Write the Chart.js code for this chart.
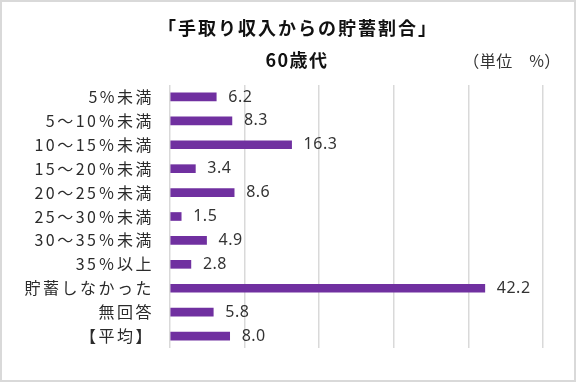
<!DOCTYPE html>
<html lang="ja">
<head>
<meta charset="utf-8">
<title>手取り収入からの貯蓄割合 60歳代</title>
<script src="https://cdn.jsdelivr.net/npm/chart.js@4/dist/chart.umd.min.js"></script>
<style>
  html, body { margin: 0; padding: 0; background: #fff; }
  #wrap { width: 576px; height: 383px; position: relative; }
</style>
</head>
<body>
<div id="wrap"><canvas id="savingsChart"></canvas></div>
<script>
// data
const categories = ['5%未満', '5〜10％未満', '10〜15％未満', '15〜20％未満', '20〜25％未満',
    '25〜30％未満', '30〜35％未満', '35％以上', '貯蓄しなかった', '無回答', '【平均】'];
const shares = [6.2, 8.3, 16.3, 3.4, 8.6, 1.5, 4.9, 2.8, 42.2, 5.8, 8.0];
const axisMin = 0;
const axisMax = 50;
const axisStep = 10;

const titleLine1 = '「手取り収入からの貯蓄割合」';
const titleLine2 = '60歳代';
const unitNote = '（単位　%）';

const jpFont = '"Noto Sans CJK JP", "Noto Sans", sans-serif';

// header texts + frame
const headerPlugin = {
    id: 'header',
    beforeDraw(chart) {
        const ctx = chart.ctx;
        ctx.save();
        ctx.fillStyle = '#fff';
        ctx.fillRect(0, 0, chart.width, chart.height);
        ctx.strokeStyle = '#d9d9d9';
        ctx.lineWidth = 2;
        ctx.strokeRect(1, 1, chart.width - 2, chart.height - 3);

        ctx.fillStyle = '#111';
        ctx.textBaseline = 'middle';
        ctx.textAlign = 'center';
        ctx.letterSpacing = '2px';
        ctx.font = 'bold 18px ' + jpFont;
        ctx.fillText(titleLine1, 298, 28);
        ctx.letterSpacing = '1.5px';
        ctx.font = 'bold 18px ' + jpFont;
        ctx.fillText(titleLine2, 297, 60);

        ctx.letterSpacing = '0.5px';
        ctx.fillStyle = '#333';
        ctx.font = '16px ' + jpFont;
        ctx.fillText(unitNote, 512, 61);
        ctx.restore();
        // spacing for axis labels drawn by the library
        ctx.letterSpacing = '2.5px';
    }
};

// value labels at the end of each bar
const valueLabels = {
    id: 'valueLabels',
    afterDatasetsDraw(chart) {
        const ctx = chart.ctx;
        const meta = chart.getDatasetMeta(0);
        ctx.save();
        ctx.letterSpacing = '0.5px';
        ctx.font = '16px "Noto Sans", sans-serif';
        ctx.fillStyle = '#333';
        ctx.textAlign = 'left';
        ctx.textBaseline = 'middle';
        meta.data.forEach((bar, i) => {
            ctx.fillText(shares[i].toFixed(1), bar.x + 12, bar.y);
        });
        ctx.restore();
    }
};

const canvas = document.getElementById('savingsChart');
new Chart(canvas, {
    type: 'bar',
    data: {
        labels: categories,
        datasets: [{
            data: shares,
            backgroundColor: '#7030a0',
            barThickness: 8
        }]
    },
    options: {
        indexAxis: 'y',
        responsive: true,
        maintainAspectRatio: false,
        animation: false,
        layout: {
            padding: { top: 85, right: 33, bottom: 35, left: 0 }
        },
        scales: {
            x: {
                min: axisMin,
                max: axisMax,
                ticks: { display: false, stepSize: axisStep },
                grid: { color: '#d9d9d9', lineWidth: 1.5, drawTicks: false },
                border: { display: false }
            },
            y: {
                afterFit(scale) { scale.width = 170; },
                ticks: {
                    color: '#2b2b2b',
                    padding: 16,
                    font: { family: jpFont, size: 16 }
                },
                grid: { display: false, drawTicks: false },
                border: { display: false }
            }
        },
        plugins: {
            legend: { display: false },
            title: { display: false },
            tooltip: { enabled: false }
        }
    },
    plugins: [headerPlugin, valueLabels]
});
</script>
</body>
</html>
